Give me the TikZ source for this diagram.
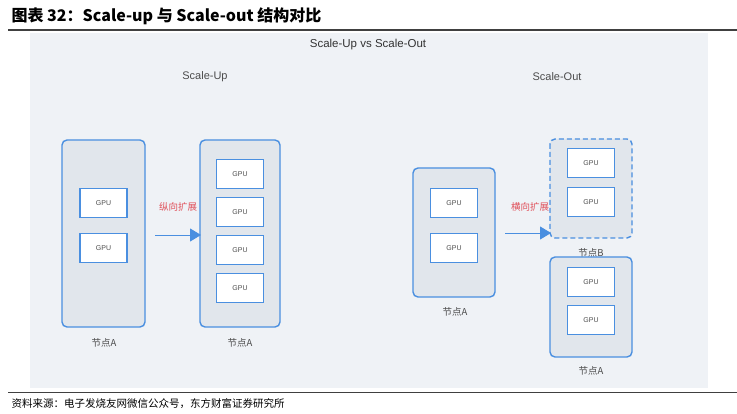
\documentclass[tikz,border=0pt]{standalone}
\usepackage{fontspec}
\setmainfont{Liberation Sans}
\newfontfamily\cjk{Noto Sans CJK SC}
\usetikzlibrary{arrows.meta}
\definecolor{bg}{HTML}{EFF2F6}
\definecolor{nodefill}{HTML}{E1E6EC}
\definecolor{blu}{HTML}{4A8FE0}
\definecolor{rd}{HTML}{E0505A}
\begin{document}
\begin{tikzpicture}[x=1pt,y=-1pt,
  server/.style={draw=blu,line width=1.4pt,fill=nodefill,rounded corners=5pt},
  gpu/.style={draw=blu,line width=1.1pt,fill=white,minimum width=47pt,minimum height=29pt,inner sep=0pt,font=\fontsize{7}{8}\selectfont,text=black!70},
  lbl/.style={font=\cjk\fontsize{9.5}{11}\selectfont,text=black!70},
  arr/.style={draw=blu,line width=0.9pt,-{Triangle[length=11pt,width=13pt]}},
  red/.style={font=\cjk\fontsize{9.5}{11}\selectfont,text=rd}]
\useasboundingbox (0,0) rectangle (737,414);
\fill[white] (0,0) rectangle (737,414);
\node[anchor=west,font=\cjk\bfseries\fontsize{16}{18}\selectfont] (title) at (8,16) {图表 32：\textbf{Scale-up} 与 \textbf{Scale-out} 结构对比};
\draw[black!75,line width=1.2pt] (8,30) -- (737,30);
\fill[bg] (30,33) rectangle (708,388);
\draw[black!75,line width=0.8pt] (8,392) -- (737,392);
\node[anchor=west,font=\cjk\fontsize{10.5}{12}\selectfont] (src) at (8,404) {资料来源：电子发烧友网微信公众号，东方财富证券研究所};
\node[font=\fontsize{11.5}{13}\selectfont,text=black!80] (t0) at (368,45) {Scale-Up vs Scale-Out};
\node[font=\fontsize{11}{13}\selectfont,text=black!70] (t1) at (205,77) {Scale-Up};
\node[font=\fontsize{11}{13}\selectfont,text=black!70] (t2) at (557,77) {Scale-Out};
% scale-up
\draw[server] (62,140) rectangle (145,327);
\node[gpu] (g1) at (103.5,203) {GPU};
\node[gpu] (g2) at (103.5,248) {GPU};
\node[lbl] (l1) at (104,343) {节点A};
\draw[server] (200,140) rectangle (280,327);
\node[gpu] (g3) at (240,174) {GPU};
\node[gpu] (g4) at (240,212) {GPU};
\node[gpu] (g5) at (240,250) {GPU};
\node[gpu] (g6) at (240,288) {GPU};
\node[lbl] (l2) at (240,343) {节点A};
\coordinate (a1s) at (155,235);
\coordinate (a1e) at (201,235);
\draw[arr] (a1s) -- (a1e);
\node[red] (r1) at (178,207) {纵向扩展};
% scale-out
\draw[server] (413,168) rectangle (495,297);
\node[gpu] (g7) at (454,203) {GPU};
\node[gpu] (g8) at (454,248) {GPU};
\node[lbl] (l3) at (455,312) {节点A};
\coordinate (a2s) at (505,233);
\coordinate (a2e) at (551,233);
\draw[arr] (a2s) -- (a2e);
\node[red] (r2) at (530,207) {横向扩展};
\draw[server,dashed,dash pattern=on 5pt off 3pt] (550,139) rectangle (632,238);
\node[gpu] (g9) at (591,163) {GPU};
\node[gpu] (g10) at (591,202) {GPU};
\node[lbl] (l4) at (591,253) {节点B};
\draw[server] (550,257) rectangle (632,357);
\node[gpu] (g11) at (591,282) {GPU};
\node[gpu] (g12) at (591,320) {GPU};
\node[lbl] (l5) at (591,371) {节点A};
\end{tikzpicture}
\end{document}
